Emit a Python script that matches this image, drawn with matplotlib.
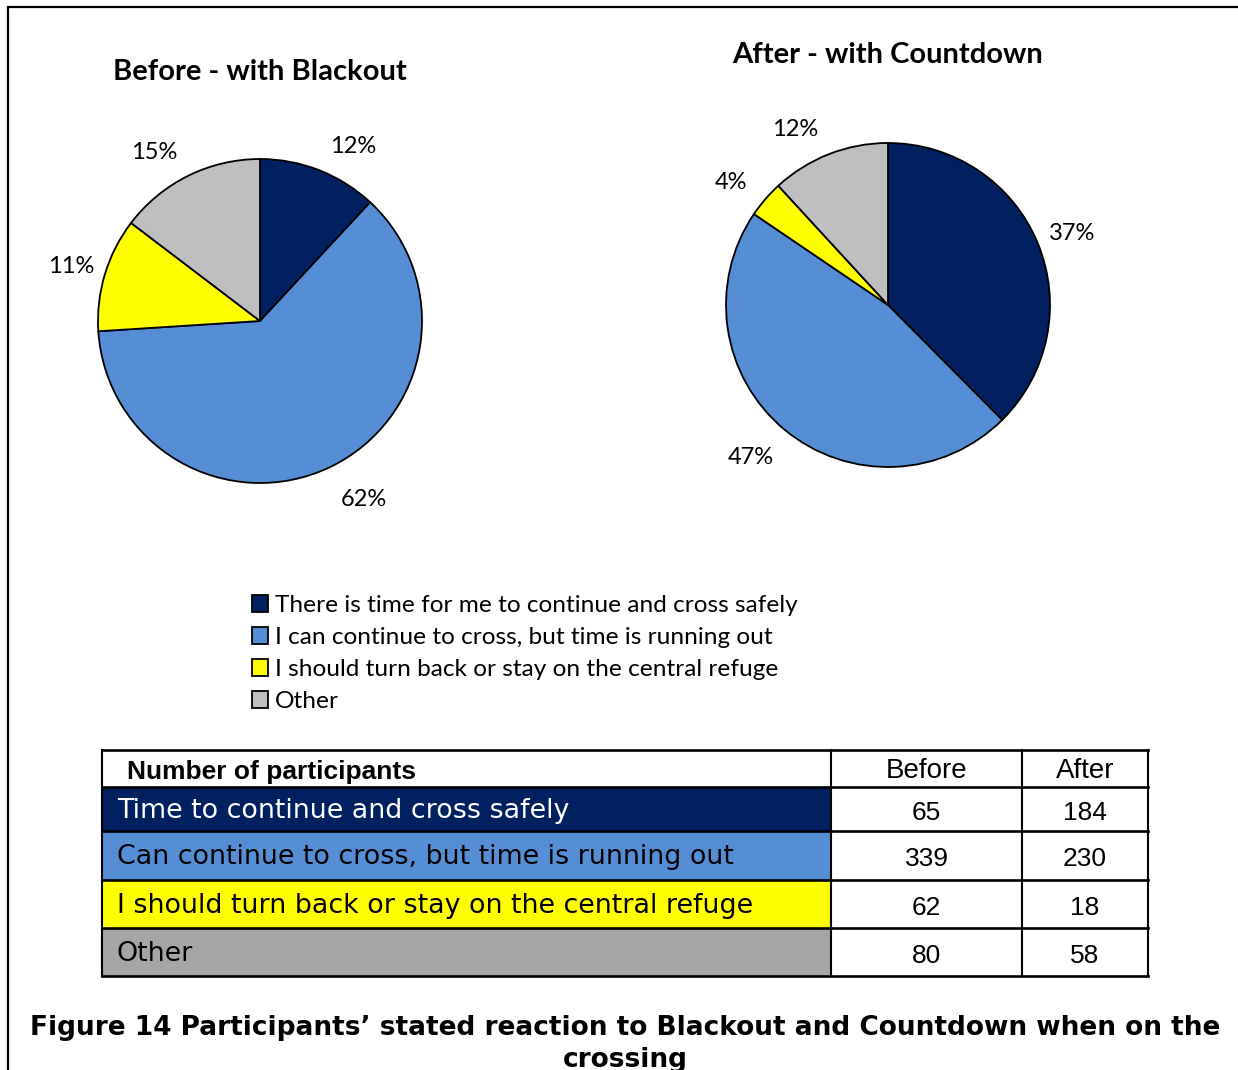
import numpy as np
import matplotlib
matplotlib.use('Agg')
from matplotlib import pyplot as plt
from matplotlib.patches import Rectangle

# datos de la figura
categories = ['There is time for me to continue and cross safely',
              'I can continue to cross, but time is running out',
              'I should turn back or stay on the central refuge',
              'Other']
row_labels = ['Time to continue and cross safely',
              'Can continue to cross, but time is running out',
              'I should turn back or stay on the central refuge',
              'Other']
before = [65, 339, 62, 80]
after = [184, 230, 18, 58]
before_pct = ['12%', '62%', '11%', '15%']
after_pct = ['37%', '47%', '4%', '12%']
col_headers = ['Before', 'After']

pie_colors = ['#002060', '#558ED5', '#FFFF00', '#BFBFBF']
row_colors = ['#002060', '#558ED5', '#FFFF00', '#A6A6A6']
row_text = ['white', 'black', 'black', 'black']

W, H = 1238, 1070
fig = plt.figure(figsize=(W / 100, H / 100), dpi=100)

# capa de fondo en pixeles (y hacia abajo)
bg = fig.add_axes([0, 0, 1, 1])
bg.set_xlim(0, W)
bg.set_ylim(H, 0)
bg.axis('off')

# marco exterior
bg.plot([8, 8, W], [H, 7, 7], color='black', lw=1.6, solid_joinstyle='miter')


def pie_axes(cx, cy, r):
    # ejes cuadrados centrados en (cx, cy) px con radio r px
    k = 1.45
    half = k * r
    ax = fig.add_axes([(cx - half) / W, 1 - (cy + half) / H, 2 * half / W, 2 * half / H])
    return ax, k


def draw_pie(cx, cy, r, vals, pct, title, ty):
    ax, k = pie_axes(cx, cy, r)
    wedges, _ = ax.pie(vals, colors=pie_colors, startangle=90, counterclock=False,
                       wedgeprops=dict(edgecolor='black', linewidth=1.3))
    # etiquetas fuera del borde, estilo excel
    for w, lab in zip(wedges, pct):
        ang = np.deg2rad((w.theta1 + w.theta2) / 2)
        c, s = np.cos(ang), np.sin(ang)
        dy = 0.16 * s if s > 0 else 0.22 * s
        ax.text(c + 0.21 * np.sign(c), s + dy, lab, ha='center', va='center',
                family='Lato', fontsize=17)
    ax.set_xlim(-k, k)
    ax.set_ylim(-k, k)
    ax.set_aspect('equal')
    bg.text(cx, ty, title, ha='center', va='center', family='Lato',
            fontweight='bold', fontsize=21)
    return wedges


wedges = draw_pie(260, 321, 162, before, before_pct, 'Before - with Blackout', 72)
draw_pie(888, 305, 162, after, after_pct, 'After - with Countdown', 55)

# leyenda
fig.legend(handles=wedges, labels=categories, loc='upper left',
           bbox_to_anchor=(252 / W, 1 - 595 / H), frameon=False,
           handlelength=0.65, handleheight=0.65, handletextpad=0.3,
           labelspacing=0.45, borderaxespad=0, borderpad=0,
           prop=dict(family='Lato', size=17.6))

# tabla
x0, x1, x2, x3 = 102, 831, 1022, 1148
ys = [750, 787, 831, 880, 928, 976]
bg.add_patch(Rectangle((x0, ys[0]), x3 - x0, ys[1] - ys[0], facecolor='white',
                       edgecolor='none'))
bg.text(127, (ys[0] + ys[1]) / 2 + 3, 'Number of participants', ha='left', va='center',
        family='Liberation Sans', fontweight='bold', fontsize=19)
bg.text((x1 + x2) / 2, (ys[0] + ys[1]) / 2 + 3, col_headers[0], ha='center', va='center',
        family='Liberation Sans', fontsize=20)
bg.text((x2 + x3) / 2, (ys[0] + ys[1]) / 2 + 3, col_headers[1], ha='center', va='center',
        family='Liberation Sans', fontsize=20)
for i in range(len(row_labels)):
    top, bot = ys[i + 1], ys[i + 2]
    bg.add_patch(Rectangle((x0, top), x1 - x0, bot - top, facecolor=row_colors[i],
                           edgecolor='none'))
    bg.text(117, (top + bot) / 2 + 2, row_labels[i], ha='left', va='center',
            family='DejaVu Sans', fontsize=19.4, color=row_text[i])
    bg.text((x1 + x2) / 2, (top + bot) / 2 + 4, str(before[i]), ha='center', va='center',
            family='Liberation Sans', fontsize=19)
    bg.text((x2 + x3) / 2, (top + bot) / 2 + 4, str(after[i]), ha='center', va='center',
            family='Liberation Sans', fontsize=19)

# lineas de la tabla
for y in ys:
    bg.plot([x0, x3], [y, y], color='black', lw=1.9)
for x in [x0, x1, x2, x3]:
    bg.plot([x, x], [ys[0], ys[-1]], color='black', lw=1.5)

# pie de figura (la segunda linea queda cortada igual que en el original)
bg.text(625, 1028, 'Figure 14 Participants\u2019 stated reaction to Blackout and Countdown when on the',
        ha='center', va='center', family='DejaVu Sans', fontweight='bold', fontsize=19)
bg.text(625, 1060, 'crossing', ha='center', va='center', family='DejaVu Sans',
        fontweight='bold', fontsize=19)

fig.savefig('out.png', dpi=100)
